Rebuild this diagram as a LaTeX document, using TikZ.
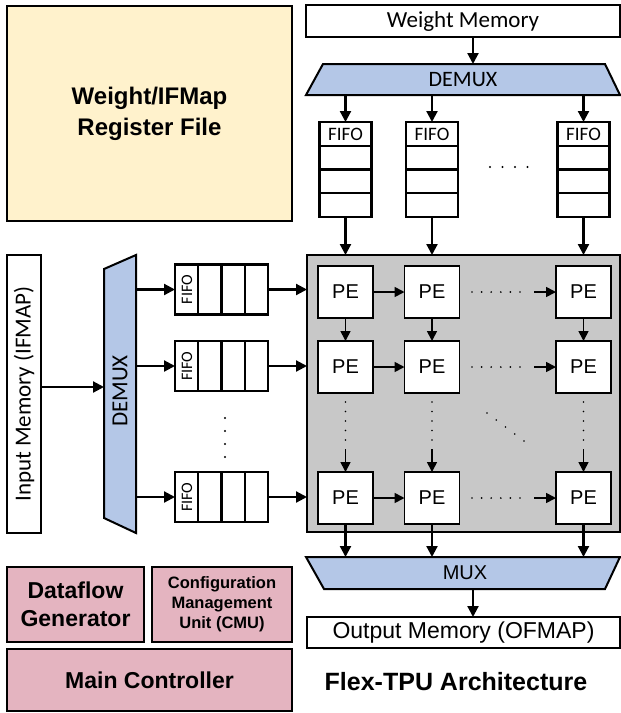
\documentclass[tikz,border=0pt]{standalone}
\usepackage{fontspec}
\setmainfont{Liberation Sans}
\newfontfamily\calfont{Carlito}
\usetikzlibrary{arrows.meta}
\definecolor{regfill}{RGB}{255,242,204}
\definecolor{muxfill}{RGB}{180,199,231}
\definecolor{arrayfill}{RGB}{200,200,200}
\definecolor{ctrlfill}{RGB}{228,180,192}
\tikzset{
  blk/.style={draw, line width=1.6pt, inner sep=0pt, outer sep=0pt, anchor=north west},
  membox/.style={blk, fill=white, line width=2pt},
  ctrl/.style={blk, fill=ctrlfill, align=center, font=\bfseries},
  pebox/.style={draw, line width=1.8pt, fill=white, minimum width=55pt, minimum height=52pt,
    inner sep=0pt, outer sep=0pt, font=\fontsize{20}{22}\selectfont},
  fifocol/.style={draw, line width=2.2pt, fill=white, minimum width=52pt, minimum height=95pt,
    inner sep=0pt, outer sep=0pt, anchor=north},
  fiforow/.style={draw, line width=2.2pt, fill=white, minimum width=93pt, minimum height=50pt,
    inner sep=0pt, outer sep=0pt},
  trap/.style={draw, line width=2pt, fill=muxfill, line join=miter},
  fat/.style={-{Triangle[length=11pt,width=11pt]}, line width=2.2pt},
  thin/.style={-{Triangle[length=10pt,width=10pt]}, line width=1.7pt},
  dot/.style={fill=black, circle, inner sep=0pt, minimum size=2.4pt},
}
\begin{document}
\begin{tikzpicture}[x=1pt,y=-1pt]
\useasboundingbox (0,0) rectangle (621,713);

% register file
\node[blk, fill=regfill, minimum width=285pt, minimum height=215pt, align=center,
  font=\fontsize{24}{31}\selectfont\bfseries] (rf) at (7,6) {Weight/IFMap\\Register File};

% weight memory and its demux
\node[membox, minimum width=314pt, minimum height=32pt, font=\calfont\fontsize{23}{25}\selectfont]
  (wm) at (306,5) {Weight Memory};
\draw[trap] (323,64) -- (605,64) -- (620,95) -- (306,95) -- cycle;
\node[font=\calfont\fontsize{22}{24}\selectfont] (wdmx) at (463,79.5) {DEMUX};
\coordinate (wdmxin) at (473,64);
\draw[fat] (wm.south -| wdmxin) -- (wdmxin);

% processing element array
\node[blk, fill=arrayfill, minimum width=313pt, minimum height=277pt] (pa) at (307,255) {};

\foreach \c/\x in {1/345.5, 2/432, 3/583.5} {
  % weight FIFO column
  \node[fifocol] (wf\c) at (\x,122) {};
  \foreach \k in {1,2,3}
    \draw[line width=2.2pt] ([yshift=-23.75*\k pt]wf\c.north west) -- ([yshift=-23.75*\k pt]wf\c.north east);
  \node[font=\calfont\fontsize{19}{21}\selectfont] at ([yshift=-11.9pt]wf\c.north) {FIFO};
  \coordinate (wtop\c) at (\x,95);
  \draw[fat] (wtop\c) -- (wf\c.north);
  \draw[fat] (wf\c.south) -- (wf\c.south |- pa.north);
  % PE column
  \node[pebox] (pe1\c) at (\x,292) {PE};
  \node[pebox] (pe2\c) at (\x,367) {PE};
  \node[pebox] (pe3\c) at (\x,498) {PE};
  \draw[thin] (pe1\c) -- (pe2\c);
  \foreach \d in {0,...,4}
    \node[dot, minimum size=1.9pt] at (\x,402+9.5*\d) {};
  \coordinate (vgap\c) at (\x,449);
  \draw[thin] (vgap\c) -- (pe3\c.north);
}
\foreach \r in {1,2,3} {
  \draw[thin] (pe\r1) -- (pe\r2);
  \foreach \d in {0,...,5}
    \node[dot, minimum size=1.9pt] at (472+9.6*\d, 0 |- pe\r1.center) {};
  \coordinate (hgap\r) at (534, 0 |- pe\r1.center);
  \draw[thin] (hgap\r) -- (pe\r3.west);
}
\foreach \d in {0,...,4}
  \node[dot, minimum size=1.9pt] at (487+9.25*\d, 413+7*\d) {};
\foreach \d in {0,...,3}
  \node[dot] at (490+12.5*\d, 167) {};

% input memory and its demux
\node[membox, minimum width=34pt, minimum height=278pt] (im) at (7,255) {};
\node[rotate=90, font=\calfont\fontsize{23}{25}\selectfont] at (im.center) {Input Memory (IFMAP)};
\draw[trap] (104,269) -- (136,255) -- (136,533) -- (104,518) -- cycle;
\node[rotate=90, font=\calfont\fontsize{23}{25}\selectfont] (idmx) at (120,391) {DEMUX};
\coordinate (idmxin) at (104,387);
\draw[fat] (im.east |- idmxin) -- (idmxin);

\foreach \r/\y in {1/289.5, 2/366, 3/497} {
  \node[fiforow] (if\r) at (221.5,\y) {};
  \foreach \k in {1,2,3}
    \draw[line width=2.2pt] ([xshift=23.25*\k pt]if\r.north west) -- ([xshift=23.25*\k pt]if\r.south west);
  \node[rotate=90, font=\calfont\fontsize{16}{18}\selectfont] at ([xshift=12pt]if\r.west) {FIFO};
  \coordinate (iout\r) at (136,\y);
  \draw[fat] (iout\r) -- (if\r.west);
  \draw[fat] (if\r.east) -- (if\r.east -| pa.west);
}
\foreach \d in {0,...,3}
  \node[dot] at (225, 418+13*\d) {};

% output mux and memory
\draw[trap] (306,557) -- (620,557) -- (605,589) -- (324,589) -- cycle;
\node[font=\fontsize{20}{22}\selectfont] (omux) at (465,573) {MUX};
\foreach \c in {1,2,3} {
  \coordinate (min\c) at (pe3\c.south |- 0,557);
  \draw[fat] (pe3\c.south) -- (min\c);
}
\coordinate (mout) at (473,589);
\node[membox, minimum width=313pt, minimum height=31pt, font=\fontsize{23}{25}\selectfont]
  (om) at (307,617) {Output Memory (OFMAP)};
\draw[fat] (mout) -- (mout |- om.north);

\node[font=\fontsize{25}{27}\selectfont\bfseries] (title) at (456,682) {Flex-TPU Architecture};

% control blocks
\node[ctrl, minimum width=137pt, minimum height=75pt, font=\fontsize{23}{28}\selectfont\bfseries]
  (dg) at (7,567) {Dataflow\\Generator};
\node[ctrl, minimum width=140pt, minimum height=75pt, font=\fontsize{16.5}{20}\selectfont\bfseries]
  (cmu) at (152,567) {Configuration\\Management\\Unit (CMU)};
\node[ctrl, minimum width=285pt, minimum height=62pt, font=\fontsize{23}{25}\selectfont\bfseries]
  (mc) at (7,649) {Main Controller};
\end{tikzpicture}
\end{document}
